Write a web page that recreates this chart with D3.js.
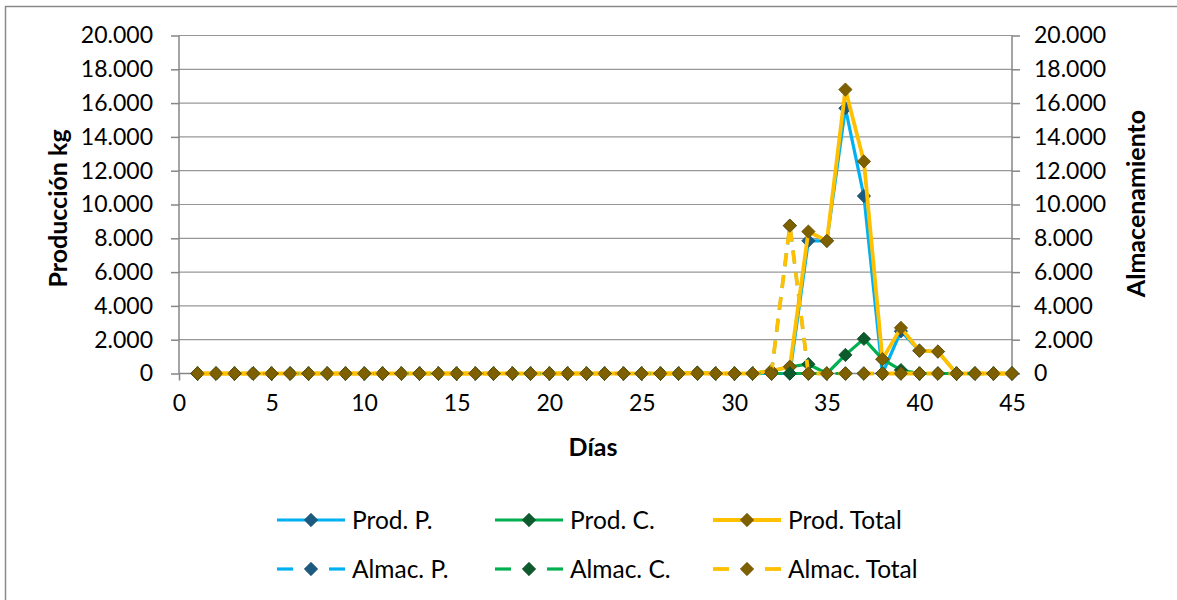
<!DOCTYPE html>
<html>
<head>
<meta charset="utf-8">
<script src="https://cdn.jsdelivr.net/npm/d3@7/dist/d3.min.js"></script>
<style>
  html, body { margin: 0; padding: 0; background: #ffffff; }
  svg { display: block; }
  text { font-family: Lato, "Open Sans", sans-serif; fill: #000; }
</style>
</head>
<body>
<svg id="chart" width="1177" height="600"></svg>
<script>
// Días del ciclo (categorías del eje X)
const days = [1,2,3,4,5,6,7,8,9,10,11,12,13,14,15,16,17,18,19,20,21,22,23,24,25,26,27,28,29,30,31,32,33,34,35,36,37,38,39,40,41,42,43,44,45];

// Producción diaria (kg)
const prodP     = [0,0,0,0,0,0,0,0,0,0,0,0,0,0,0,0,0,0,0,0,0,0,0,0,0,0,0,50,0,0,0,0,0,7850,7850,15700,10500,0,2500,1350,1300,0,0,0,0];
const prodC     = [0,0,0,0,0,0,0,0,0,0,0,0,0,0,0,0,0,0,0,0,0,0,0,0,0,0,0,0,0,0,0,150,400,550,0,1100,2050,850,200,0,0,0,0,0,0];
const prodTotal = [0,0,0,0,0,0,0,0,0,0,0,0,0,0,0,0,0,0,0,0,0,0,0,0,0,0,0,50,0,0,0,150,400,8400,7850,16800,12550,850,2700,1350,1300,0,0,0,0];

// Almacenamiento diario
const almacP     = [0,0,0,0,0,0,0,0,0,0,0,0,0,0,0,0,0,0,0,0,0,0,0,0,0,0,0,0,0,0,0,0,8750,0,0,0,0,0,0,0,0,0,0,0,0];
const almacC     = [0,0,0,0,0,0,0,0,0,0,0,0,0,0,0,0,0,0,0,0,0,0,0,0,0,0,0,0,0,0,0,0,0,0,0,0,0,0,0,0,0,0,0,0,0];
const almacTotal = [0,0,0,0,0,0,0,0,0,0,0,0,0,0,0,0,0,0,0,0,0,0,0,0,0,0,0,0,0,0,0,0,8750,0,0,0,0,0,0,0,0,0,0,0,0];

// Marcas de los ejes
const xTicks = [0,5,10,15,20,25,30,35,40,45];
const yTicks = [0,2000,4000,6000,8000,10000,12000,14000,16000,18000,20000];

const seriesNames = ["Prod. P.", "Prod. C.", "Prod. Total", "Almac. P.", "Almac. C.", "Almac. Total"];

const series = [
  { name: seriesNames[0], values: prodP,      line: "#00B0F0", mark: "#1C5A80", dash: null, width: 3.2 },
  { name: seriesNames[1], values: prodC,      line: "#00B050", mark: "#0D5A2C", dash: null, width: 3.2 },
  { name: seriesNames[2], values: prodTotal,  line: "#FFC000", mark: "#7F6000", dash: null, width: 3.8 },
  { name: seriesNames[3], values: almacP,     line: "#00B0F0", mark: "#1C5A80", dash: "13,9", width: 3.2 },
  { name: seriesNames[4], values: almacC,     line: "#00B050", mark: "#0D5A2C", dash: "13,9", width: 3.2 },
  { name: seriesNames[5], values: almacTotal, line: "#FFC000", mark: "#7F6000", dash: "13,9", width: 3.8 }
];

const svg = d3.select("#chart");
const plot = { left: 179, right: 1012, top: 35.5, bottom: 373.5 };
const axisColor = "#868686";
const fontSize = 23;
const legendFont = 24.5;
const titleFont = 25;

const locale = d3.formatLocale({ decimal: ",", thousands: ".", grouping: [3], currency: ["", "€"] });
const fmt = locale.format(",");

// Marco del gráfico
svg.append("rect")
  .attr("x", 5.5).attr("y", 6.5)
  .attr("width", 1300).attr("height", 700)
  .attr("fill", "#fff").attr("stroke", "#8a8a8a").attr("stroke-width", 1.5);

const x = d3.scaleLinear().domain([0, 45]).range([plot.left, plot.right]);
const yL = d3.scaleLinear().domain([0, 20000]).range([plot.bottom, plot.top]);
const yR = d3.scaleLinear().domain([0, 20000]).range([plot.bottom, plot.top]);

// Líneas de cuadrícula horizontales
svg.append("g").selectAll("line").data(yTicks).join("line")
  .attr("x1", plot.left).attr("x2", plot.right)
  .attr("y1", d => yL(d)).attr("y2", d => yL(d))
  .attr("stroke", "#979797").attr("stroke-width", 1.2);

// Eje izquierdo
const gL = svg.append("g").attr("transform", `translate(${plot.left},0)`)
  .call(d3.axisLeft(yL).tickValues(yTicks).tickFormat(fmt).tickSize(8).tickPadding(18));
// Eje derecho
const gR = svg.append("g").attr("transform", `translate(${plot.right},0)`)
  .call(d3.axisRight(yR).tickValues(yTicks).tickFormat(fmt).tickSize(8).tickPadding(14));
// Eje X
const gX = svg.append("g").attr("transform", `translate(0,${plot.bottom})`)
  .call(d3.axisBottom(x).tickValues(xTicks).tickFormat(d3.format("d")).tickSize(7).tickPadding(14));

[gL, gR, gX].forEach(g => {
  g.select(".domain").attr("stroke", axisColor).attr("stroke-width", 1.5);
  g.selectAll(".tick line").attr("stroke", axisColor).attr("stroke-width", 1.5);
  g.selectAll(".tick text").attr("font-size", fontSize).attr("font-family", "Lato, sans-serif").attr("fill", "#000");
});
gL.select(".domain").attr("d", `M0,${plot.top}V${plot.bottom}`);
gR.select(".domain").attr("d", `M0,${plot.top}V${plot.bottom}`);
gX.select(".domain").attr("d", `M${plot.left},0H${plot.right}`);
gX.selectAll(".tick text").attr("dy", "0.71em");

// Títulos de ejes
svg.append("text")
  .attr("transform", `translate(67,${(plot.top + plot.bottom) / 2 + 4}) rotate(-90)`)
  .attr("text-anchor", "middle").attr("font-weight", "bold").attr("font-size", titleFont)
  .text("Producción kg");
svg.append("text")
  .attr("transform", `translate(1145,${(plot.top + plot.bottom) / 2 - 1}) rotate(-90)`)
  .attr("text-anchor", "middle").attr("font-weight", "bold").attr("font-size", titleFont)
  .text("Almacenamiento");
svg.append("text")
  .attr("x", 593).attr("y", 456)
  .attr("text-anchor", "middle").attr("font-weight", "bold").attr("font-size", titleFont)
  .text("Días");

// Marcador en rombo
const diamond = d3.symbol().type(d3.symbolSquare).size(88);

const lineGen = d3.line().x((d, i) => x(days[i])).y(d => yL(d));

// Series: línea y marcadores, en orden
series.forEach(s => {
  const g = svg.append("g");
  g.append("path")
    .attr("d", lineGen(s.values))
    .attr("fill", "none")
    .attr("stroke", s.line)
    .attr("stroke-width", s.width)
    .attr("stroke-linejoin", "round")
    .attr("stroke-dasharray", s.dash);
  g.selectAll("path.mk").data(s.values).join("path")
    .attr("class", "mk")
    .attr("d", diamond)
    .attr("transform", (d, i) => `translate(${x(days[i])},${yL(d)}) rotate(45)`)
    .attr("fill", s.mark)
    .attr("stroke", d3.color(s.mark).darker(0.4))
    .attr("stroke-width", 0.8);
});

// Leyenda
const legendCols = [277, 495, 713];
const legendRows = [520, 569];
const legend = svg.append("g");
series.forEach((s, i) => {
  const lx = legendCols[i % 3];
  const ly = legendRows[Math.floor(i / 3)];
  const g = legend.append("g");
  if (s.dash) {
    g.append("line").attr("x1", lx).attr("x2", lx + 16).attr("y1", ly).attr("y2", ly)
      .attr("stroke", s.line).attr("stroke-width", s.width);
    g.append("line").attr("x1", lx + 52).attr("x2", lx + 68).attr("y1", ly).attr("y2", ly)
      .attr("stroke", s.line).attr("stroke-width", s.width);
  } else {
    g.append("line").attr("x1", lx).attr("x2", lx + 68).attr("y1", ly).attr("y2", ly)
      .attr("stroke", s.line).attr("stroke-width", s.width);
  }
  g.append("path").attr("d", diamond)
    .attr("transform", `translate(${lx + 34},${ly}) rotate(45)`)
    .attr("fill", s.mark).attr("stroke", d3.color(s.mark).darker(0.4)).attr("stroke-width", 0.8);
  g.append("text").attr("x", lx + 75).attr("y", ly).attr("dy", "0.35em")
    .attr("font-size", legendFont).text(s.name);
});
</script>
</body>
</html>
